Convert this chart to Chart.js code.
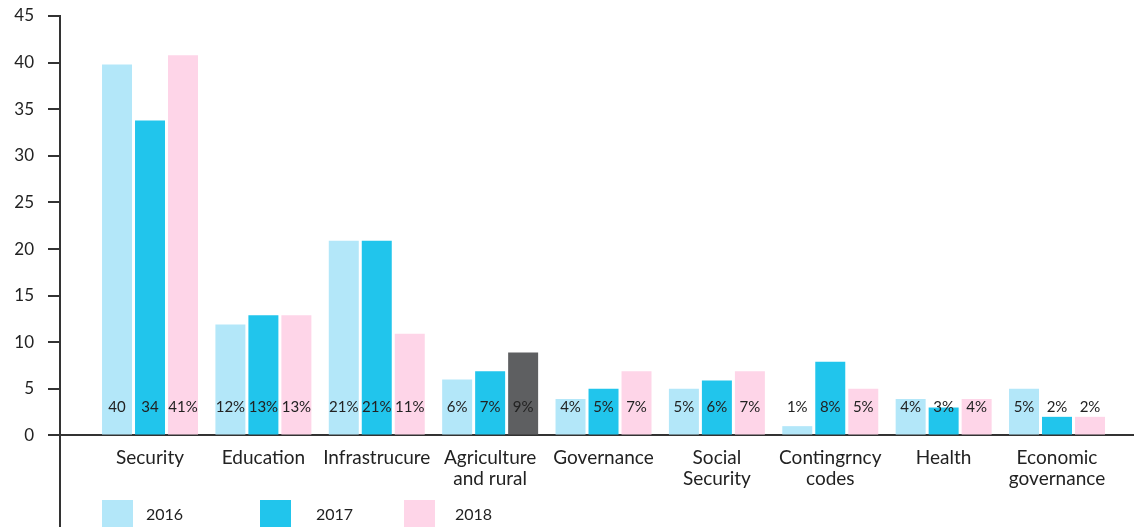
<!DOCTYPE html>
<html>
<head>
<meta charset="utf-8">
<script src="https://cdn.jsdelivr.net/npm/chart.js@4.4.0/dist/chart.umd.min.js"></script>
<style>
  html, body { margin: 0; padding: 0; background: #fff; overflow: hidden; }
  #wrap { position: relative; width: 1134px; height: 560px; }
</style>
</head>
<body>
<div id="wrap"><canvas id="chart"></canvas></div>
<script>
const categories = ["Security", "Education", "Infrastrucure", ["Agriculture", "and rural"], "Governance",
    ["Social", "Security"], ["Contingrncy", "codes"], "Health", ["Economic", "governance"]];
const years = ["2016", "2017", "2018"];

const values2016 = [39.8, 11.9, 20.9, 6.0, 3.9, 5.0, 1.0, 3.9, 5.0];
const values2017 = [33.8, 12.9, 20.9, 6.9, 5.0, 5.9, 7.9, 3.0, 2.0];
const values2018 = [40.8, 12.9, 10.9, 8.9, 6.9, 6.9, 5.0, 3.9, 2.0];

const labels2016 = ["40", "12%", "21%", "6%", "4%", "5%", "1%", "4%", "5%"];
const labels2017 = ["34", "13%", "21%", "7%", "5%", "6%", "8%", "3%", "2%"];
const labels2018 = ["41%", "13%", "11%", "9%", "7%", "7%", "5%", "4%", "2%"];

const colors = ["#b3e7f9", "#21c5ec", "#fed5e8"];
const darkBar = "#5e5f61";

// labels on the bars, all on one line near the bottom
const barText = {
    id: "barText",
    afterDatasetsDraw(chart) {
        const ctx = chart.ctx;
        const y = chart.scales.y.getPixelForValue(3.05);
        ctx.save();
        ctx.font = "15px Lato";
        ctx.fillStyle = "#222";
        ctx.textAlign = "center";
        ctx.textBaseline = "middle";
        chart.data.datasets.forEach((ds, i) => {
            chart.getDatasetMeta(i).data.forEach((bar, j) => {
                ctx.fillText(ds.valueLabels[j], bar.x, y);
            });
        });
        ctx.restore();
    }
};

// legend under the axis labels
const bottomLegend = {
    id: "bottomLegend",
    afterDraw(chart) {
        const ctx = chart.ctx;
        const boxX = [102, 260, 404];
        const textX = [146, 316, 455];
        ctx.save();
        ctx.font = "16px Lato";
        ctx.textBaseline = "middle";
        chart.data.datasets.forEach((ds, i) => {
            ctx.fillStyle = colors[i];
            ctx.fillRect(boxX[i], 500, 31, 30);
            ctx.fillStyle = "#222";
            ctx.fillText(ds.label, textX[i], 515);
        });
        ctx.restore();
    }
};

new Chart(document.getElementById("chart"), {
    type: "bar",
    data: {
        labels: categories.map((c, i) => i),
        datasets: [
            { label: years[0], data: values2016, valueLabels: labels2016, backgroundColor: colors[0] },
            { label: years[1], data: values2017, valueLabels: labels2017, backgroundColor: colors[1] },
            {
                label: years[2], data: values2018, valueLabels: labels2018,
                backgroundColor: values2018.map((v, i) => (i === 3 ? darkBar : colors[2]))
            }
        ]
    },
    options: {
        responsive: true,
        maintainAspectRatio: false,
        animation: false,
        borderWidth: 0,
        categoryPercentage: 0.873,
        barPercentage: 0.909,
        layout: { padding: { top: 16, right: 0, bottom: 30, left: 0 } },
        plugins: {
            legend: { display: false },
            tooltip: { enabled: false }
        },
        scales: {
            x: {
                type: "linear",
                min: -0.794,
                max: 8.679,
                offset: false,
                position: { y: 0 },
                grid: { display: false, drawTicks: false, offset: false },
                border: { color: "#333", width: 2 },
                ticks: {
                    stepSize: 1,
                    includeBounds: false,
                    autoSkip: false,
                    maxRotation: 0,
                    minRotation: 0,
                    padding: 12,
                    color: "#222",
                    font: { family: "Lato", size: 19, lineHeight: 1.1 },
                    callback: (v) => categories[v] ?? ""
                }
            },
            y: {
                min: -10.14,
                max: 45,
                afterFit: (axis) => {
                    axis.width = 60;
                    axis.paddingTop = 0;
                    axis.paddingBottom = 0;
                },
                afterBuildTicks: (axis) => { axis.ticks = axis.ticks.filter((t) => t.value >= 0); },
                ticks: {
                    stepSize: 5,
                    padding: 14,
                    color: "#222",
                    font: { family: "Lato", size: 17 }
                },
                grid: { drawOnChartArea: false, tickLength: 12, color: "#333", lineWidth: 2 },
                border: { color: "#333", width: 2 }
            }
        }
    },
    plugins: [barText, bottomLegend]
});
</script>
</body>
</html>
